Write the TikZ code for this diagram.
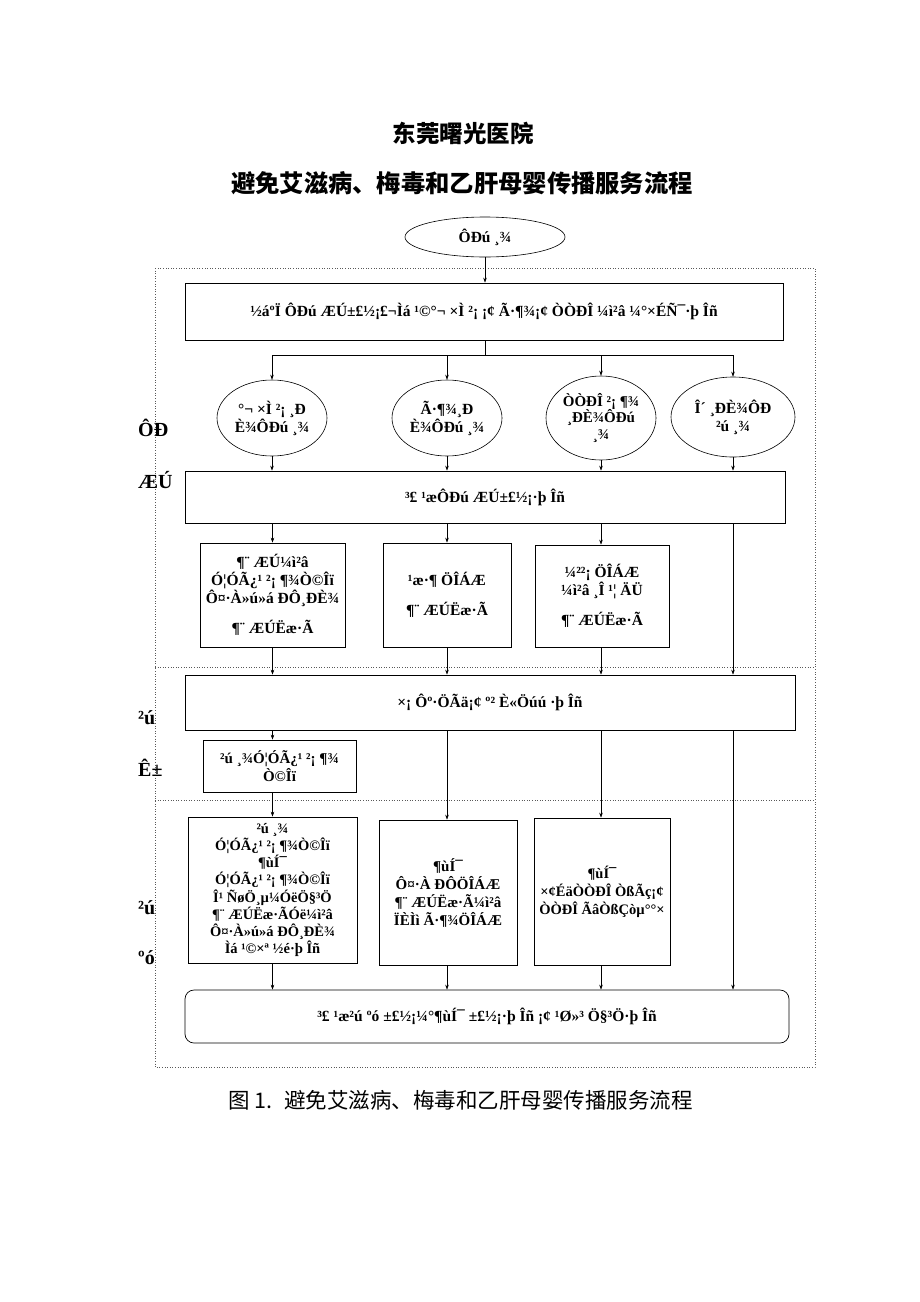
\documentclass[tikz,border=0pt]{standalone}
\usepackage{fontspec}
\setmainfont{Liberation Serif}
\newfontfamily\cjk{Noto Sans CJK SC}
\newfontfamily\tms{Liberation Serif}
\usetikzlibrary{shapes.geometric,arrows.meta}
\begin{document}
\begin{tikzpicture}[x=1pt,y=-1pt,
  every node/.style={font=\tms\bfseries\fontsize{15.5}{18}\selectfont, inner sep=1pt},
  rbox/.style={draw, line width=0.7pt, rectangle, align=center},
  ell/.style={draw, ellipse, align=center, inner sep=0pt, line width=0.6pt},
  arr/.style={-{Stealth[length=5pt,width=3.5pt]}, line width=0.5pt},
  ln/.style={line width=0.5pt},
  dot/.style={dotted, line width=0.6pt, gray!70!black},
  side/.style={font=\tms\bfseries\fontsize{20}{22}\selectfont, anchor=west}]
\useasboundingbox (0,0) rectangle (920,1302);
% titles
\node[font=\cjk\bfseries\fontsize{23.5}{26}\selectfont] (t1) at (463,133) {东莞曙光医院};
\node[font=\cjk\bfseries\fontsize{24.3}{27}\selectfont] (t2) at (462,183) {避免艾滋病、梅毒和乙肝母婴传播服务流程};
% dotted frame
\draw[dot] (155,268) rectangle (815,1067);
\draw[dot] (155,667) -- (815,667);
\draw[dot] (155,800) -- (815,800);
% top ellipse
\node[ell, minimum width=160, minimum height=40] (top) at (485,237) {ÔÐú ¸¾};
% box1
\node[rbox, minimum width=598, minimum height=57] (b1) at (484,311.5) {½áºÏ ÔÐú ÆÚ±£½¡£¬Ìá ¹©°¬ ×Ì ²¡ ¡¢ Ã·¶¾¡¢ ÒÒÐÎ ¼ì²â ¼°×ÉÑ¯·þ Îñ};
% ellipses
\node[ell, minimum width=110, minimum height=76] (e1) at (272,418) {°¬ ×Ì ²¡ ¸Ð\\È¾ÔÐú ¸¾};
\node[ell, minimum width=110, minimum height=76] (e2) at (447,418) {Ã·¶¾¸Ð\\È¾ÔÐú ¸¾};
\node[ell, minimum width=110, minimum height=84, font=\tms\bfseries\fontsize{15}{16.5}\selectfont] (e3) at (601,418) {ÒÒÐÎ ²¡ ¶¾\\¸ÐÈ¾ÔÐú\\¸¾};
\node[ell, minimum width=124, minimum height=80] (e4) at (733,417) {Î´ ¸ÐÈ¾ÔÐ\\²ú ¸¾};
% box2
\node[rbox, minimum width=600, minimum height=52] (b2) at (485,497) {³£ ¹æÔÐú ÆÚ±£½¡·þ Îñ};
% row 3
\node[rbox, minimum width=145, minimum height=104] (c1) at (272.5,595) {¶¨ ÆÚ¼ì²â\\Ó¦ÓÃ¿¹ ²¡ ¶¾Ò©Îï\\Ô¤·À»ú»á ÐÔ¸ÐÈ¾\\[12pt]¶¨ ÆÚËæ·Ã};
\node[rbox, minimum width=128, minimum height=104] (c2) at (447,595) {¹æ·¶ ÖÎÁÆ\\[12pt]¶¨ ÆÚËæ·Ã};
\node[rbox, minimum width=134, minimum height=102] (c3) at (602,596) {¼²²¡ ÖÎÁÆ\\¼ì²â ¸Î ¹¦ ÄÜ\\[12pt]¶¨ ÆÚËæ·Ã};
% box3
\node[rbox, minimum width=610, minimum height=55] (b3) at (490,702.5) {×¡ Ôº·ÖÃä¡¢ º² È«Öúú ·þ Îñ};
% box4
\node[rbox, minimum width=153, minimum height=52, inner sep=1pt, font=\tms\bfseries\fontsize{15}{14}\selectfont] (b4) at (279.5,766) {²ú ¸¾Ó¦ÓÃ¿¹ ²¡ ¶¾\\Ò©Îï};
% row 5
\node[rbox, minimum width=169, minimum height=146, inner sep=0pt, font=\tms\bfseries\fontsize{14.5}{17.2}\selectfont] (d1) at (272.5,890) {²ú ¸¾\\Ó¦ÓÃ¿¹ ²¡ ¶¾Ò©Îï\\¶ùÍ¯\\Ó¦ÓÃ¿¹ ²¡ ¶¾Ò©Îï\\Î¹ ÑøÖ¸µ¼ÓëÖ§³Ö\\¶¨ ÆÚËæ·ÃÓë¼ì²â\\Ô¤·À»ú»á ÐÔ¸ÐÈ¾\\Ìá ¹©×ª ½é·þ Îñ};
\node[rbox, minimum width=138, minimum height=145, font=\tms\bfseries\fontsize{15}{18}\selectfont] (d2) at (448,892.5) {¶ùÍ¯\\Ô¤·À ÐÔÖÎÁÆ\\¶¨ ÆÚËæ·Ã¼ì²â\\ÏÈÌì Ã·¶¾ÖÎÁÆ};
\node[rbox, minimum width=136, minimum height=147, font=\tms\bfseries\fontsize{14.5}{18}\selectfont] (d3) at (602,891.5) {¶ùÍ¯\\×¢ÉäÒÒÐÎ ÒßÃç¡¢\\ÒÒÐÎ ÃâÒßÇòµ°°×};
% bottom
\node[rbox, rounded corners=9pt, minimum width=604, minimum height=53] (bt) at (487,1016.5) {³£ ¹æ²ú ºó ±£½¡¼°¶ùÍ¯ ±£½¡·þ Îñ ¡¢ ¹Ø»³ Ö§³Ö·þ Îñ};
% side labels
\node[side] (s1) at (137,428) {ÔÐ};
\node[side] (s2) at (137,480) {ÆÚ};
\node[side] (s3) at (137,718) {²ú};
\node[side] (s4) at (137,768) {Ê±};
\node[side] (s5) at (137,908) {²ú};
\node[side] (s6) at (137,958) {ºó};
% caption
\node[font=\cjk\fontsize{21.5}{24}\selectfont, anchor=west] (cap) at (227,1100) {图 1.\hspace{12pt}避免艾滋病、梅毒和乙肝母婴传播服务流程};
% connectors
\coordinate (sp) at (485,355);
\draw[arr] (top.south) -- (b1.north -| top.south);
\draw[ln] (b1.south -| sp) -- (sp);
\draw[ln] (e1.north |- sp) -- (e4.north |- sp);
\foreach \e in {e1,e2,e3,e4} \draw[arr] (\e.north |- sp) -- (\e.north);
\foreach \e in {e1,e2,e3,e4} \draw[arr] (\e.south) -- (\e.south |- b2.north);
\draw[arr] (b2.south -| c1.north) -- (c1.north);
\draw[arr] (b2.south -| c2.north) -- (c2.north);
\draw[arr] (b2.south -| e3.south) -- (c3.north -| e3.south);
\draw[arr] (c1.south) -- (c1.south |- b3.north);
\draw[arr] (c2.south) -- (c2.south |- b3.north);
\draw[arr] (c3.south -| e3.south) -- (b3.north -| e3.south);
\draw[arr] (b2.south -| e4.south) -- (b3.north -| e4.south);
\draw[arr] (b3.south -| c1.south) -- (b4.north -| c1.south);
\draw[arr] (b4.south -| c1.south) -- (d1.north -| c1.south);
\draw[arr] (b3.south -| c2.south) -- (d2.north -| c2.south);
\draw[arr] (b3.south -| e3.south) -- (d3.north -| e3.south);
\draw[arr] (b3.south -| e4.south) -- (bt.north -| e4.south);
\draw[arr] (d1.south -| c1.south) -- (bt.north -| c1.south);
\draw[arr] (d2.south -| c2.south) -- (bt.north -| c2.south);
\draw[arr] (d3.south -| e3.south) -- (bt.north -| e3.south);
\end{tikzpicture}
\end{document}
